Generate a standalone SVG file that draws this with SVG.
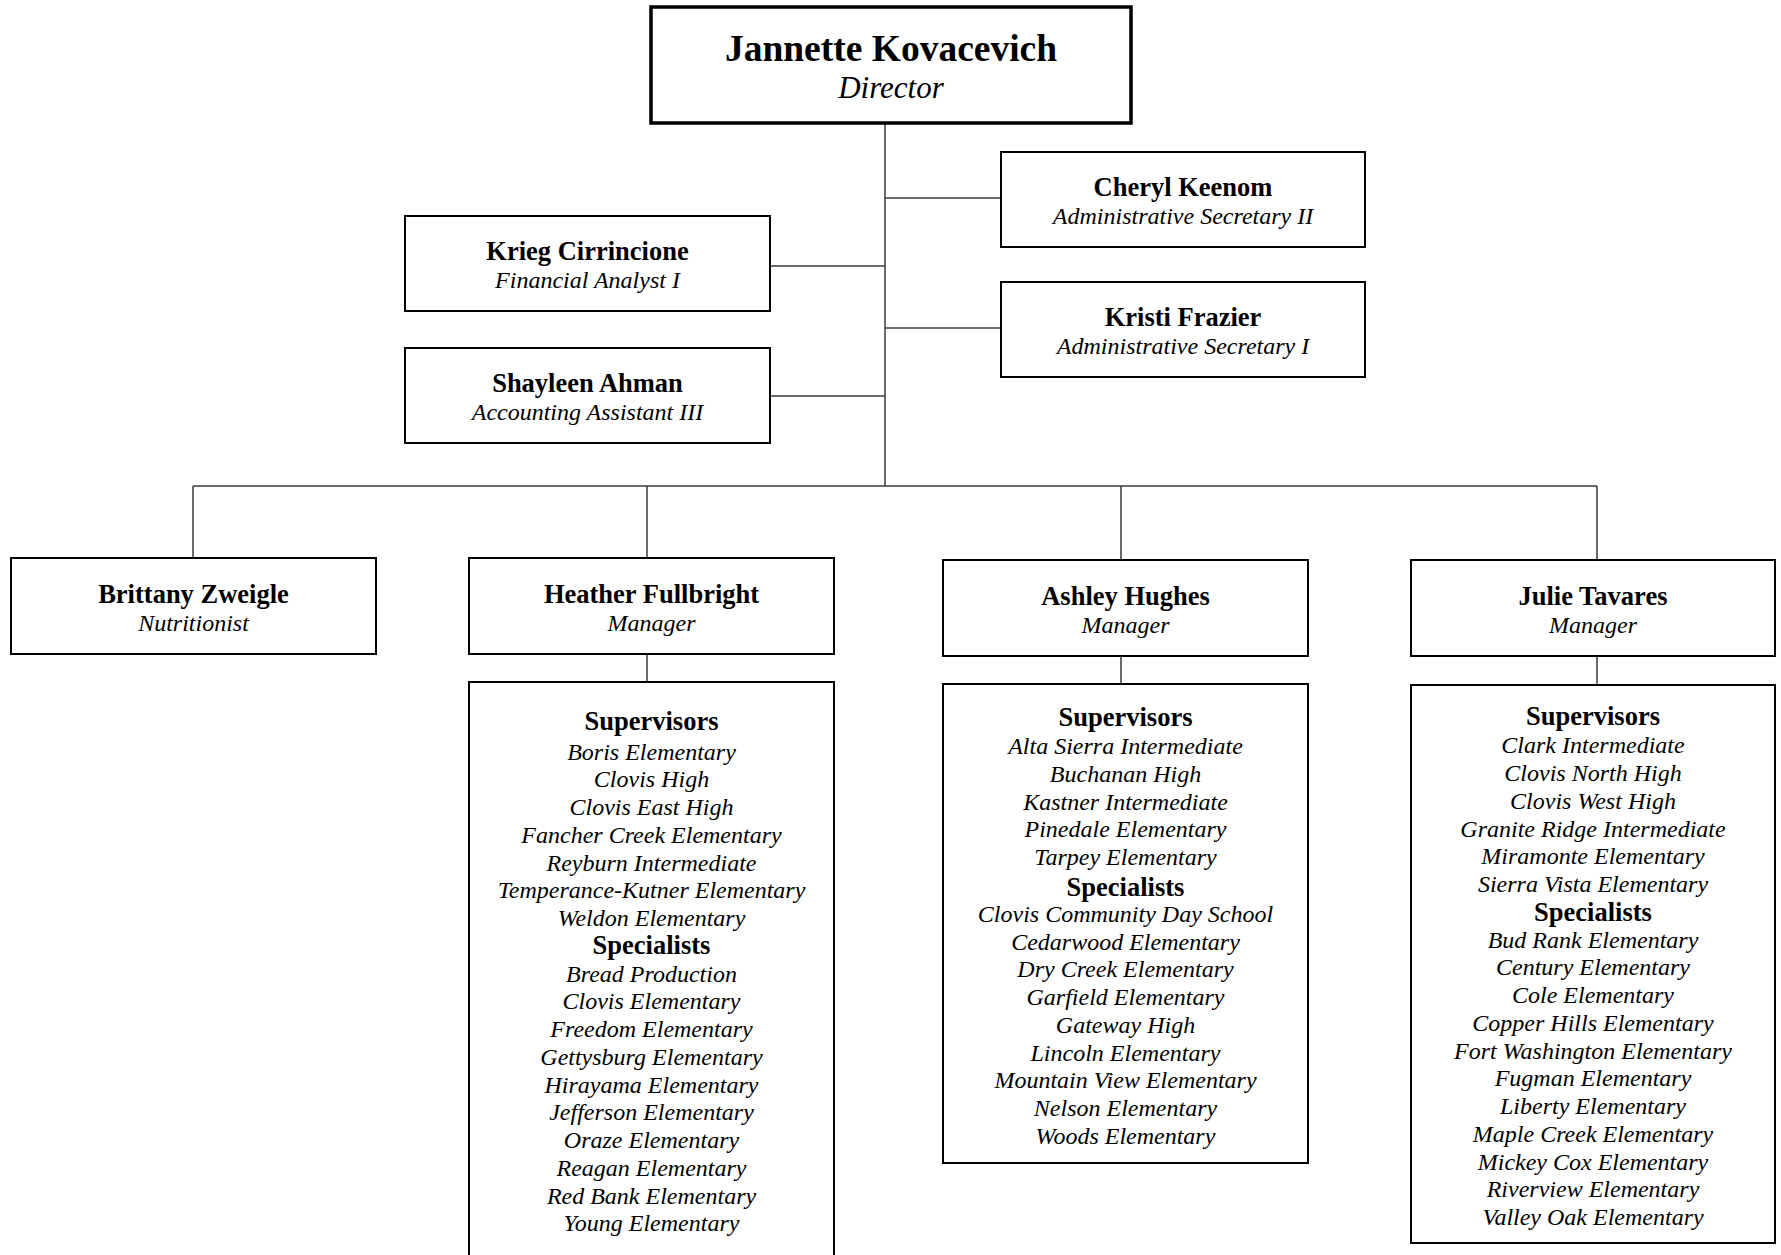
<svg xmlns="http://www.w3.org/2000/svg" width="1781" height="1255" viewBox="0 0 1781 1255">
<style>
.box{fill:#fff;stroke:#000;stroke-width:2}
.dir{fill:#fff;stroke:#000;stroke-width:3.5}
.ln{stroke:#3a3a3a;stroke-width:1.5;fill:none}
text{font-family:"Liberation Serif","Times New Roman",serif;text-anchor:middle;fill:#000}
.nm{font-weight:bold;font-size:26.5px}
.rl{font-style:italic;font-size:24px}
.hd{font-weight:bold;font-size:26.5px}
</style>
<rect width="1781" height="1255" fill="#fff"/>
<g id="connectors">
<line class="ln" x1="885" y1="123" x2="885" y2="486"/>
<line class="ln" x1="885" y1="198" x2="1001" y2="198"/>
<line class="ln" x1="885" y1="328" x2="1001" y2="328"/>
<line class="ln" x1="770" y1="266" x2="885" y2="266"/>
<line class="ln" x1="770" y1="396" x2="885" y2="396"/>
<line class="ln" x1="193" y1="486" x2="1597" y2="486"/>
<line class="ln" x1="193" y1="486" x2="193" y2="558"/>
<line class="ln" x1="647" y1="486" x2="647" y2="558"/>
<line class="ln" x1="1121" y1="486" x2="1121" y2="560"/>
<line class="ln" x1="1597" y1="486" x2="1597" y2="560"/>
<line class="ln" x1="647" y1="654" x2="647" y2="682"/>
<line class="ln" x1="1121" y1="656" x2="1121" y2="684"/>
<line class="ln" x1="1597" y1="656" x2="1597" y2="685"/>
</g>
<g id="director">
<rect class="dir" x="651" y="7" width="480" height="116"/>
<text x="891" y="61" style="font-weight:bold;font-size:37.5px">Jannette Kovacevich</text>
<text x="891" y="98" style="font-style:italic;font-size:31px">Director</text>
</g>
<g id="cheryl">
<rect class="box" x="1001" y="152" width="364" height="95"/>
<text class="nm" x="1183" y="196">Cheryl Keenom</text>
<text class="rl" x="1183" y="224">Administrative Secretary II</text>
</g>
<g id="kristi">
<rect class="box" x="1001" y="282" width="364" height="95"/>
<text class="nm" x="1183" y="326">Kristi Frazier</text>
<text class="rl" x="1183" y="354">Administrative Secretary I</text>
</g>
<g id="krieg">
<rect class="box" x="405" y="216" width="365" height="95"/>
<text class="nm" x="587.5" y="260">Krieg Cirrincione</text>
<text class="rl" x="587.5" y="288">Financial Analyst I</text>
</g>
<g id="shayleen">
<rect class="box" x="405" y="348" width="365" height="95"/>
<text class="nm" x="587.5" y="392">Shayleen Ahman</text>
<text class="rl" x="587.5" y="420">Accounting Assistant III</text>
</g>
<g id="brittany">
<rect class="box" x="11" y="558" width="365" height="96"/>
<text class="nm" x="193.5" y="602.5">Brittany Zweigle</text>
<text class="rl" x="193.5" y="631">Nutritionist</text>
</g>
<g id="heather">
<rect class="box" x="469" y="558" width="365" height="96"/>
<text class="nm" x="651.5" y="602.5">Heather Fullbright</text>
<text class="rl" x="651.5" y="631">Manager</text>
</g>
<g id="ashley">
<rect class="box" x="943" y="560" width="365" height="96"/>
<text class="nm" x="1125.5" y="605">Ashley Hughes</text>
<text class="rl" x="1125.5" y="633">Manager</text>
</g>
<g id="julie">
<rect class="box" x="1411" y="560" width="364" height="96"/>
<text class="nm" x="1593" y="605">Julie Tavares</text>
<text class="rl" x="1593" y="633">Manager</text>
</g>
<g id="heather-schools">
<rect class="box" x="469" y="682" width="365" height="580"/>
<text class="hd" x="651.5" y="729.5">Supervisors</text>
<text class="rl" x="651.5" y="759.6">Boris Elementary</text>
<text class="rl" x="651.5" y="787.4">Clovis High</text>
<text class="rl" x="651.5" y="815.1">Clovis East High</text>
<text class="rl" x="651.5" y="842.9">Fancher Creek Elementary</text>
<text class="rl" x="651.5" y="870.6">Reyburn Intermediate</text>
<text class="rl" x="651.5" y="898.4">Temperance-Kutner Elementary</text>
<text class="rl" x="651.5" y="926.1">Weldon Elementary</text>
<text class="hd" x="651.5" y="953.9">Specialists</text>
<text class="rl" x="651.5" y="981.6">Bread Production</text>
<text class="rl" x="651.5" y="1009.4">Clovis Elementary</text>
<text class="rl" x="651.5" y="1037.1">Freedom Elementary</text>
<text class="rl" x="651.5" y="1064.9">Gettysburg Elementary</text>
<text class="rl" x="651.5" y="1092.6">Hirayama Elementary</text>
<text class="rl" x="651.5" y="1120.4">Jefferson Elementary</text>
<text class="rl" x="651.5" y="1148.1">Oraze Elementary</text>
<text class="rl" x="651.5" y="1175.9">Reagan Elementary</text>
<text class="rl" x="651.5" y="1203.6">Red Bank Elementary</text>
<text class="rl" x="651.5" y="1231.4">Young Elementary</text>
</g>
<g id="ashley-schools">
<rect class="box" x="943" y="684" width="365" height="479"/>
<text class="hd" x="1125.5" y="726">Supervisors</text>
<text class="rl" x="1125.5" y="754">Alta Sierra Intermediate</text>
<text class="rl" x="1125.5" y="781.7">Buchanan High</text>
<text class="rl" x="1125.5" y="809.5">Kastner Intermediate</text>
<text class="rl" x="1125.5" y="837.2">Pinedale Elementary</text>
<text class="rl" x="1125.5" y="865">Tarpey Elementary</text>
<text class="hd" x="1125.5" y="895.5">Specialists</text>
<text class="rl" x="1125.5" y="921.7">Clovis Community Day School</text>
<text class="rl" x="1125.5" y="949.5">Cedarwood Elementary</text>
<text class="rl" x="1125.5" y="977.2">Dry Creek Elementary</text>
<text class="rl" x="1125.5" y="1005">Garfield Elementary</text>
<text class="rl" x="1125.5" y="1032.7">Gateway High</text>
<text class="rl" x="1125.5" y="1060.5">Lincoln Elementary</text>
<text class="rl" x="1125.5" y="1088.2">Mountain View Elementary</text>
<text class="rl" x="1125.5" y="1116">Nelson Elementary</text>
<text class="rl" x="1125.5" y="1143.7">Woods Elementary</text>
</g>
<g id="julie-schools">
<rect class="box" x="1411" y="685" width="364" height="558"/>
<text class="hd" x="1593" y="724.5">Supervisors</text>
<text class="rl" x="1593" y="753.2">Clark Intermediate</text>
<text class="rl" x="1593" y="781">Clovis North High</text>
<text class="rl" x="1593" y="808.7">Clovis West High</text>
<text class="rl" x="1593" y="836.5">Granite Ridge Intermediate</text>
<text class="rl" x="1593" y="864.2">Miramonte Elementary</text>
<text class="rl" x="1593" y="892">Sierra Vista Elementary</text>
<text class="hd" x="1593" y="921.2">Specialists</text>
<text class="rl" x="1593" y="947.5">Bud Rank Elementary</text>
<text class="rl" x="1593" y="975.2">Century Elementary</text>
<text class="rl" x="1593" y="1003">Cole Elementary</text>
<text class="rl" x="1593" y="1030.7">Copper Hills Elementary</text>
<text class="rl" x="1593" y="1058.5">Fort Washington Elementary</text>
<text class="rl" x="1593" y="1086.2">Fugman Elementary</text>
<text class="rl" x="1593" y="1114">Liberty Elementary</text>
<text class="rl" x="1593" y="1141.7">Maple Creek Elementary</text>
<text class="rl" x="1593" y="1169.5">Mickey Cox Elementary</text>
<text class="rl" x="1593" y="1197.2">Riverview Elementary</text>
<text class="rl" x="1593" y="1225">Valley Oak Elementary</text>
</g>
</svg>
